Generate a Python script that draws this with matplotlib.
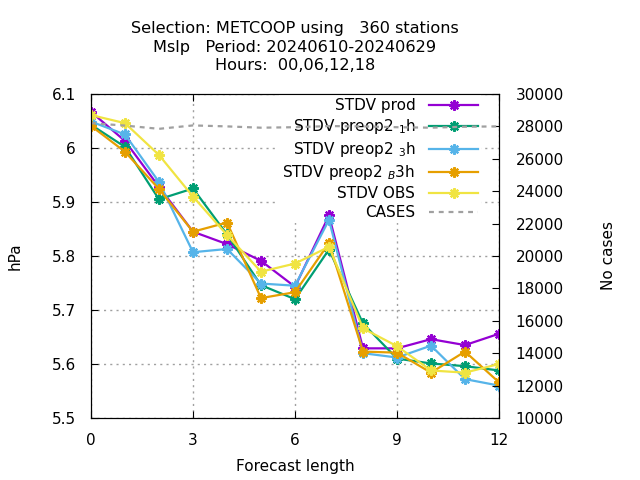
import numpy as np
import matplotlib.pyplot as plt

# --- Data ---
lead = [0, 1, 2, 3, 4, 5, 6, 7, 8, 9, 10, 11, 12]
stdv_prod = [6.067, 6.013, 5.928, 5.845, 5.822, 5.791, 5.743, 5.875, 5.629, 5.629, 5.646, 5.635, 5.656]
stdv_p1h = [6.043, 6.002, 5.905, 5.925, 5.840, 5.746, 5.720, 5.812, 5.675, 5.610, 5.601, 5.596, 5.588]
stdv_p3h = [6.049, 6.025, 5.937, 5.807, 5.813, 5.749, 5.745, 5.867, 5.620, 5.612, 5.634, 5.572, 5.560]
stdv_pb3h = [6.041, 5.993, 5.924, 5.845, 5.862, 5.722, 5.733, 5.824, 5.623, 5.621, 5.584, 5.623, 5.566]
stdv_obs = [6.061, 6.046, 5.987, 5.910, 5.839, 5.771, 5.786, 5.817, 5.666, 5.633, 5.588, 5.584, 5.600]
cases = [28200, 28050, 27850, 28060, 28000, 27920, 27950, 28020, 28000, 27950, 27920, 27980, 28000]

labels = ['STDV prod', 'STDV preop2 $_{1}$h', 'STDV preop2 $_{3}$h',
          'STDV preop2 $_{B}$3h', 'STDV OBS']
colors = ['#9400d3', '#009e73', '#56b4e9', '#e69f00', '#f0e442']
series = [stdv_prod, stdv_p1h, stdv_p3h, stdv_pb3h, stdv_obs]

plt.rcParams['font.family'] = 'DejaVu Sans'
plt.rcParams['font.size'] = 11

fig = plt.figure(figsize=(6.4, 4.8), dpi=100)
ax = fig.add_axes([91/640, 1 - 418/480, 408/640, 324/480])
ax2 = ax.twinx()

# data lines sit above the legend box, which only hides the grid
handles = []
for vals, lab, col in zip(series, labels, colors):
    h, = ax.plot(lead, vals, color=col, lw=1.6, marker=(8, 2, 0),
                 markersize=7.5, markeredgewidth=1.6, label=lab, zorder=6)
    handles.append(h)

hc, = ax2.plot(lead, cases, color='#a0a0a0', lw=1.6, linestyle=(0, (2.2, 2.2)),
               label='CASES')
handles.append(hc)

# --- Axes ---
ax.set_xlim(0, 12)
ax.set_ylim(5.5, 6.1)
ax.set_xticks([0, 3, 6, 9, 12])
ax.set_yticks([5.5, 5.6, 5.7, 5.8, 5.9, 6.0, 6.1])
ax.set_yticklabels(['5.5', '5.6', '5.7', '5.8', '5.9', '6', '6.1'])
ax2.set_ylim(10000, 30000)
ax2.set_yticks(np.arange(10000, 30001, 2000))

ax.tick_params(axis='x', direction='in', top=True, length=5, pad=10.5)
ax.tick_params(axis='y', direction='in', length=5, pad=11)
ax2.tick_params(axis='y', direction='in', length=5, pad=12)

ax.grid(True, color='#a0a0a0', linestyle=(0, (1.5, 3)), lw=1.0)
ax.set_axisbelow(True)

ax.set_xlabel('Forecast length', labelpad=8)
ax.set_ylabel('hPa', labelpad=21)
ax2.set_ylabel('No cases', labelpad=27)

ax.set_title('Selection: METCOOP using   360 stations\n'
             'Mslp   Period: 20240610-20240629\n'
             'Hours:  00,06,12,18', fontsize=11.6, linespacing=1.3, pad=17)

leg = ax.legend(handles=handles, loc='upper right', bbox_to_anchor=(0.956, 0.997),
                markerfirst=False, frameon=True, fancybox=False, framealpha=1.0,
                edgecolor='none', facecolor='white', fontsize=11,
                handlelength=3.2, handletextpad=0.9, labelspacing=0.26,
                borderaxespad=0.0, borderpad=0.2)

fig.savefig('out.png', dpi=100)
